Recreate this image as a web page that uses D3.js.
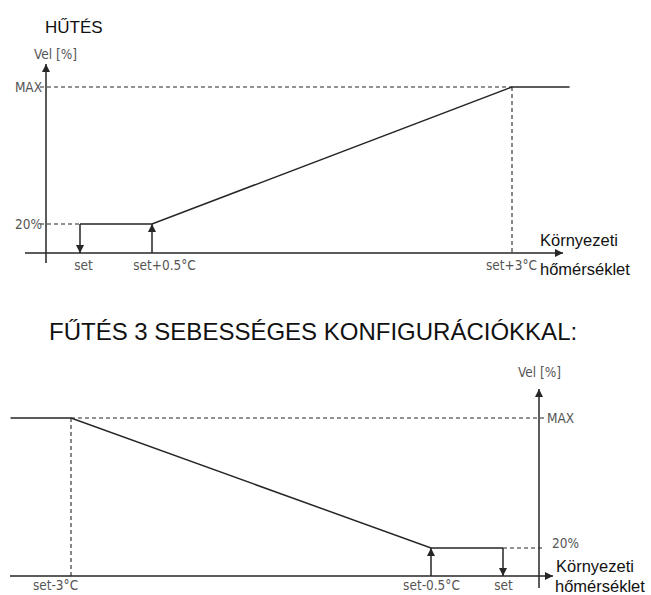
<!DOCTYPE html>
<html lang="hu">
<head>
<meta charset="UTF-8">
<title>Hűtés / Fűtés</title>
<script src="https://cdnjs.cloudflare.com/ajax/libs/d3/7.9.0/d3.min.js"></script>
<style>
  body { margin: 0; background: #fff; }
  .lbl { font-family: "DejaVu Sans Condensed", "DejaVu Sans", sans-serif; font-size: 13.5px; fill: #555; }
  .big { font-family: "Liberation Sans", Arial, sans-serif; fill: #111; }
</style>
</head>
<body>
<svg id="chart" width="651" height="595"></svg>
<script>
// cooling: temperature offsets from set point (°C) and fan speed (%)
const coolTicks = [0, 0.5, 3];
const coolTickLabels = ["set", "set+0.5°C", "set+3°C"];
const coolT = [0, 0.5, 3, 3.4];
const coolV = [20, 20, 100, 100];

// heating, 3-speed configuration
const heatTicks = [-3, -0.5, 0];
const heatTickLabels = ["set-3°C", "set-0.5°C", "set"];
const heatT = [-3.42, -3, -0.5, 0];
const heatV = [100, 100, 20, 20];

const levels = [20, 100];
const levelLabels = ["20%", "MAX"];

const svg = d3.select("#chart");
const ink = "#262626";

const defs = svg.append("defs");
defs.append("marker")
    .attr("id", "arr")
    .attr("viewBox", "0 0 10 10")
    .attr("refX", 10).attr("refY", 5)
    .attr("markerWidth", 9).attr("markerHeight", 8)
    .attr("markerUnits", "userSpaceOnUse")
    .attr("orient", "auto")
    .append("path").attr("d", "M0,0 L10,5 L0,10 Z").attr("fill", ink);

function seg(g, x1, y1, x2, y2, opts) {
    opts = opts || {};
    const l = g.append("line")
        .attr("x1", x1).attr("y1", y1).attr("x2", x2).attr("y2", y2)
        .attr("stroke", ink)
        .attr("stroke-width", opts.w || 1.5);
    if (opts.dash) l.attr("stroke-dasharray", "4,3");
    if (opts.arrow) l.attr("marker-end", "url(#arr)");
    return l;
}

// ---------- top chart: HŰTÉS ----------
svg.append("text").attr("class", "big").attr("x", 45).attr("y", 33)
    .attr("font-size", 17).text("HŰTÉS");

const x1 = d3.scaleLinear().domain([0, 3]).range([80, 512]);
const y1 = d3.scaleLinear().domain([0, 20, 100]).range([253, 224, 87]);
const g1 = svg.append("g");
const ax1 = 46;

// axes
seg(g1, ax1, 263, ax1, 64, { arrow: true });
seg(g1, 25, y1(0), 563, y1(0), { arrow: true });
g1.append("text").attr("class", "lbl").attr("x", 34).attr("y", 59).text("Vel [%]");

// level guides
levels.forEach(function (v, i) {
    const xEnd = v === 100 ? x1(3) : x1(0);
    seg(g1, ax1 - 6, y1(v), xEnd, y1(v), { dash: true, w: 1.1 });
    g1.append("text").attr("class", "lbl")
        .attr("x", ax1 - 4).attr("y", y1(v) + 5)
        .attr("text-anchor", "end").text(levelLabels[i]);
});
seg(g1, x1(3), y1(100), x1(3), y1(0), { dash: true, w: 1.1 });

// curve
g1.append("path")
    .datum(d3.zip(coolT, coolV))
    .attr("d", d3.line().x(d => x1(d[0])).y(d => y1(d[1])))
    .attr("fill", "none").attr("stroke", ink).attr("stroke-width", 1.5);

// switching arrows
seg(g1, x1(0), y1(20), x1(0), y1(0), { arrow: true });
seg(g1, x1(0.5), y1(0), x1(0.5), y1(20), { arrow: true });

// tick labels
g1.append("g").attr("transform", `translate(0,${y1(0)})`)
    .call(d3.axisBottom(x1).tickValues(coolTicks).tickSize(0).tickPadding(7)
        .tickFormat((d, i) => coolTickLabels[i]))
    .call(g => g.select(".domain").remove())
    .call(g => g.selectAll("text").attr("class", "lbl").attr("fill", null)
        .attr("font-family", null).attr("font-size", null)
        .attr("dx", (d, i) => [3, 12, -1][i]));

g1.append("text").attr("class", "big").attr("x", 540).attr("y", 246)
    .attr("font-size", 16.5).text("Környezeti");
g1.append("text").attr("class", "big").attr("x", 540).attr("y", 275)
    .attr("font-size", 16.5).text("hőmérséklet");

// ---------- bottom chart: FŰTÉS ----------
svg.append("text").attr("class", "big").attr("x", 49).attr("y", 340)
    .attr("font-size", 24).text("FŰTÉS 3 SEBESSÉGES KONFIGURÁCIÓKKAL:");

const x2 = d3.scaleLinear().domain([-3, 0]).range([71, 503]);
const y2 = d3.scaleLinear().domain([0, 20, 100]).range([576, 548, 418]);
const g2 = svg.append("g");
const ax2 = 539;

seg(g2, ax2, 588, ax2, 389, { arrow: true });
seg(g2, 10, y2(0), 553, y2(0), { arrow: true });
g2.append("text").attr("class", "lbl").attr("x", 518).attr("y", 377).text("Vel [%]");

levels.forEach(function (v, i) {
    const xStart = v === 100 ? x2(-3) : x2(0);
    seg(g2, xStart, y2(v), ax2 + 6, y2(v), { dash: true, w: 1.1 });
    g2.append("text").attr("class", "lbl")
        .attr("x", ax2 + (v === 100 ? 8 : 13)).attr("y", y2(v) + (v === 100 ? 5 : 0))
        .text(levelLabels[i]);
});
seg(g2, x2(-3), y2(100), x2(-3), y2(0), { dash: true, w: 1.1 });

g2.append("path")
    .datum(d3.zip(heatT, heatV))
    .attr("d", d3.line().x(d => x2(d[0])).y(d => y2(d[1])))
    .attr("fill", "none").attr("stroke", ink).attr("stroke-width", 1.5);

seg(g2, x2(-0.5), y2(0), x2(-0.5), y2(20), { arrow: true });
seg(g2, x2(0), y2(20), x2(0), y2(0), { arrow: true });

g2.append("g").attr("transform", `translate(0,${y2(0)})`)
    .call(d3.axisBottom(x2).tickValues(heatTicks).tickSize(0).tickPadding(4)
        .tickFormat((d, i) => heatTickLabels[i]))
    .call(g => g.select(".domain").remove())
    .call(g => g.selectAll("text").attr("class", "lbl").attr("fill", null)
        .attr("font-family", null).attr("font-size", null)
        .attr("dx", (d, i) => [-16, 0, 0][i]));

g2.append("text").attr("class", "big").attr("x", 556).attr("y", 572)
    .attr("font-size", 16.5).text("Környezeti");
g2.append("text").attr("class", "big").attr("x", 555).attr("y", 592)
    .attr("font-size", 16.5).text("hőmérséklet");
</script>
</body>
</html>
